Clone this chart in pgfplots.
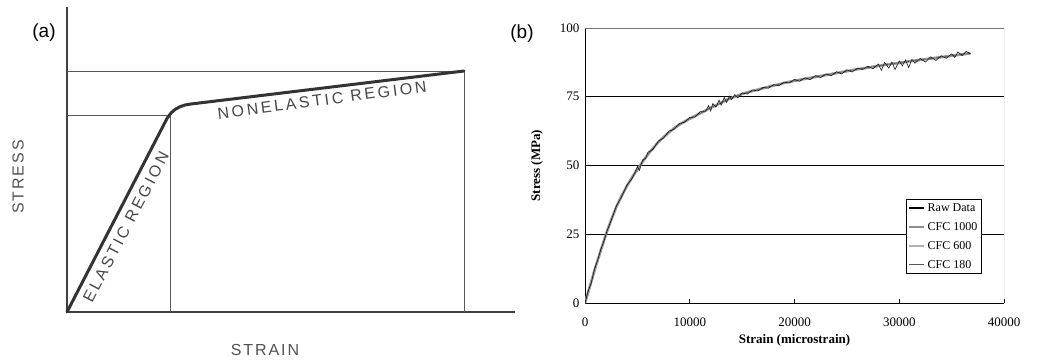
\documentclass[border=0pt]{standalone}
\usepackage{pgfplots}
\pgfplotsset{compat=1.18}
\usepackage{pgfplotstable}
\usepackage{fontspec}
\setmainfont{Liberation Serif}
\newfontfamily\arial{Liberation Sans}
\newfontfamily\arialA[LetterSpace=17]{Liberation Sans}
\newfontfamily\arialB[LetterSpace=12]{Liberation Sans}

\pgfplotstableread{
x y
0 0
300 4.5
600 7.2
900 12.5
1200 15.5
1500 19.5
1800 22.3
2100 26.2
2500 30
3000 35.4
3500 38.6
4000 42.9
4500 45.3
4800 47.9
5000 49.6
5200 48.2
5500 52
5800 52.6
6000 54.8
6500 55.9
7000 58.9
7500 60
8000 62.5
8500 63.1
9000 65.3
9500 65.7
10000 67.5
10500 67.6
11000 69.6
11500 69.5
11800 71.8
12000 69.8
12200 72.5
12500 71.2
12800 73.8
13000 72
13300 74.8
13500 72.9
13800 75.2
14000 74
14300 75.8
14600 74.6
15000 76.4
15500 76
16000 77.5
16500 77.1
17000 78.4
17500 78.1
18000 79.4
18500 79
19000 80.3
19500 80
20000 81.3
20500 80.6
21000 81.9
21500 81.2
22000 82.7
22500 82
23000 83.3
23500 82.6
24000 84.1
24500 83.3
25000 84.8
25500 84
26000 85.4
26500 84.9
27000 86.1
27500 85.2
28000 86.9
28300 84.6
28600 87.5
29000 85.4
29300 87.6
29600 84.9
30000 88
30300 86.2
30600 88.4
30900 85.6
31200 88.6
31500 87.2
32000 88.9
32500 87.6
33000 89.5
33500 88.2
34000 89.9
34500 89
35000 90.6
35300 89.3
35600 91.3
36000 90
36400 91.5
36800 90.6
}\rawdata

\pgfplotstableread{
x y
0 0
500 6.5
1000 13
1500 19
2000 25
2500 30.2
3000 35
3500 39
4000 42.5
4500 45.7
5000 48.5
5500 51.4
6000 54
6500 56.3
7000 58.5
7500 60.3
8000 62
8500 63.5
9000 64.8
9500 66
10000 67
10500 68
11000 69
11500 70
12000 71
12500 71.9
13000 72.8
13500 73.8
14000 74.6
14500 75.3
15000 76
15500 76.6
16000 77.1
16500 77.6
17000 78.1
17500 78.6
18000 79.1
18500 79.5
19000 80
19500 80.4
20000 80.8
21000 81.5
22000 82.2
23000 82.9
24000 83.6
25000 84.3
26000 85
27000 85.6
28000 86.2
29000 86.8
30000 87.3
31000 87.9
32000 88.4
33000 88.9
34000 89.4
35000 89.9
36000 90.4
36800 90.8
}\cfcdata

\begin{document}
\begin{tikzpicture}[x=1pt,y=1pt]
\useasboundingbox (0,0) rectangle (1037,362);

% ---------- panel (a) ----------
\begin{axis}[
  at={(67pt,50pt)}, anchor=south west,
  scale only axis, width=448pt, height=305pt,
  xmin=0, xmax=448, ymin=0, ymax=305,
  axis x line=bottom, axis y line=left,
  axis line style={-, line width=1.6pt, color=black!75},
  xtick=\empty, ytick=\empty, clip=false]
\addplot[line width=0.9pt, color=black!65] coordinates {(0,241) (397,241) (397,0)};
\addplot[line width=0.9pt, color=black!65] coordinates {(0,197) (103,197) (103,0)};
\addplot[line width=3pt, color=black!80, line join=round, line cap=round]
  coordinates {(0,0) (100,193.5) (104,199) (108,202.5) (113,205.3) (118,207) (124,208) (397,241)};
\node[font=\arialA\fontsize{16}{16}\selectfont, text=black!72, rotate=62.4]
  at (axis cs:59,85) {ELASTIC REGION};
\node[font=\arialA\fontsize{16}{16}\selectfont, text=black!72, rotate=7.5]
  at (axis cs:255,212) {NONELASTIC REGION};
\end{axis}
\node[font=\arialB\fontsize{16}{16}\selectfont, text=black!68, rotate=90] at (18,185) {STRESS};
\node[font=\arialB\fontsize{16}{16}\selectfont, text=black!68] at (265,12) {STRAIN};
\node[font=\arial\fontsize{19}{19}\selectfont] at (44,329) {(a)};
\node[font=\arial\fontsize{19}{19}\selectfont] at (522,328) {(b)};

% ---------- panel (b) ----------
\begin{axis}[
  at={(585pt,59pt)}, anchor=south west,
  scale only axis, width=419pt, height=275pt,
  xmin=0, xmax=40000, ymin=0, ymax=100,
  axis x line*=bottom, axis y line*=left,
  axis line style={-, line width=1pt, color=black},
  xtick={0,10000,20000,30000,40000},
  ytick={0,25,50,75,100},
  scaled x ticks=false,
  /pgf/number format/1000 sep={},
  /pgf/number format/assume math mode=true,
  ticklabel style={font=\fontsize{13}{13}\selectfont},
  xtick align=inside, major tick length=4pt,
  xtick style={black, line width=0.8pt},
  ytick style={draw=none},
  xticklabel style={yshift=-11pt},
  yticklabel style={xshift=-2pt},
  xlabel={\textbf{Strain (microstrain)}},
  ylabel={\textbf{Stress (MPa)}},
  every axis x label/.style={at={(axis description cs:0.5,-0.1345)}, anchor=center,
    font=\fontsize{13}{13}\selectfont},
  every axis y label/.style={at={(axis description cs:-0.1146,0.5)}, anchor=center, rotate=90,
    font=\fontsize{13}{13}\selectfont},
  legend style={at={(0.9475,0.105)}, anchor=south east, draw=black,
    line width=1.2pt, font=\fontsize{12}{12}\selectfont,
    inner sep=2pt, row sep=5.5pt, cells={anchor=west}},
  legend image code/.code={\draw[#1] (0pt,0pt) -- (15pt,0pt);},
  legend cell align=left]
\draw[black, line width=1pt] (axis cs:0,25) -- (axis cs:40000,25);
\draw[black, line width=1pt] (axis cs:0,50) -- (axis cs:40000,50);
\draw[black, line width=1pt] (axis cs:0,75) -- (axis cs:40000,75);
\draw[black!55, line width=0.8pt] (rel axis cs:0,1) -- (rel axis cs:1,1) -- (rel axis cs:1,0);
\addlegendimage{black, line width=1.6pt}
\addlegendentry{Raw Data}
\addplot[black!45, line width=2.6pt] table[x=x,y=y] {\cfcdata};
\addlegendentry{CFC 1000}
\addplot[black!30, line width=1.4pt] table[x=x,y=y] {\cfcdata};
\addlegendentry{CFC 600}
\addplot[black!65, line width=0.6pt] table[x=x,y=y] {\cfcdata};
\addlegendentry{CFC 180}
\addplot[black!90, line width=0.6pt, forget plot] table[x=x,y=y] {\rawdata};
\end{axis}
\end{tikzpicture}
\end{document}
